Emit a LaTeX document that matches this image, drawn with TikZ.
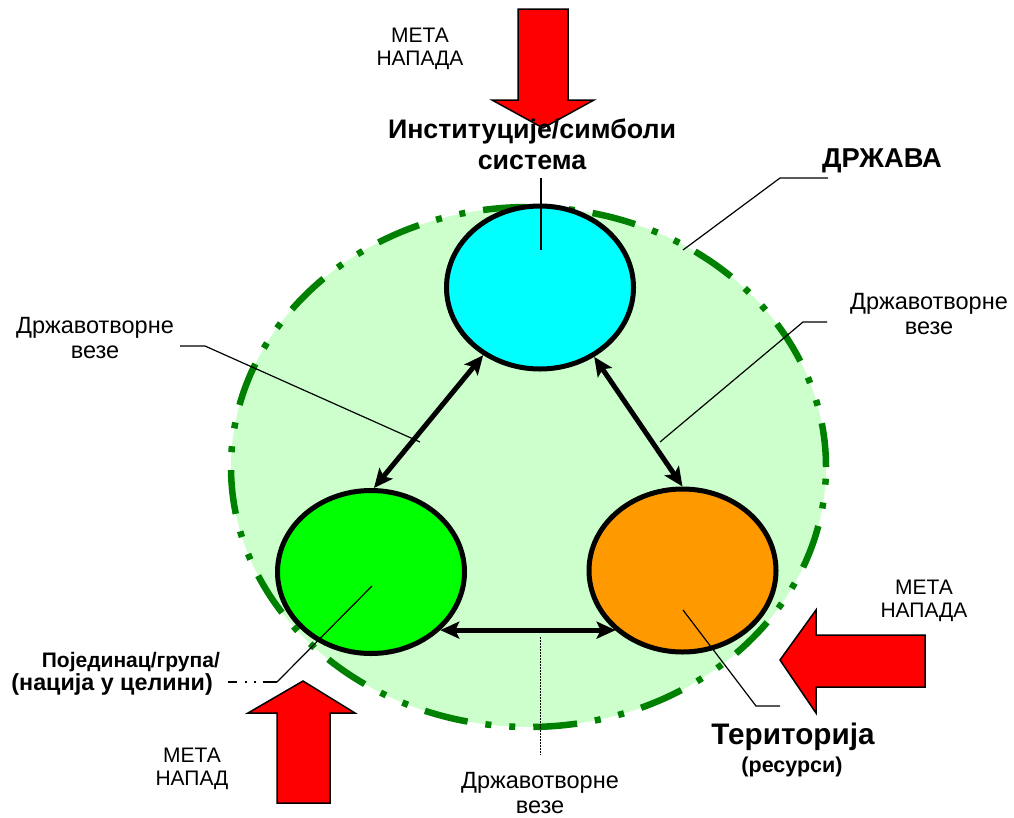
\documentclass[tikz,border=0pt]{standalone}
\usepackage{fontspec}
\setmainfont{Liberation Sans}
\usetikzlibrary{shapes.geometric,arrows.meta}
\definecolor{stategreen}{RGB}{204,255,204}
\definecolor{borderg}{RGB}{0,128,0}
\definecolor{cyanf}{RGB}{0,255,255}
\definecolor{greenf}{RGB}{0,255,0}
\definecolor{orangef}{RGB}{255,153,0}
\definecolor{redf}{RGB}{255,0,0}
\begin{document}
\begin{tikzpicture}[x=1pt,y=-1pt,
  lbl/.style={inner sep=0pt, align=center, font=\fontsize{21}{23}\selectfont},
  vlbl/.style={inner sep=0pt, align=center, font=\fontsize{23.5}{25}\selectfont},
  part/.style={ellipse, draw=black, line width=5pt, minimum width=187pt, minimum height=163pt, inner sep=0pt},
  link/.style={line width=5pt, {Stealth[length=19pt,width=17pt,inset=4pt]}-{Stealth[length=19pt,width=17pt,inset=4pt]}},
  leader/.style={line width=1.2pt, black},
  attack/.style={fill=redf, draw=black, line width=1.5pt, line join=miter}]
\useasboundingbox (0,0) rectangle (1014,817);

% state
\node[ellipse, fill=stategreen, draw=borderg, line width=6.5pt,
      dash pattern=on 44pt off 18pt on 6pt off 18pt on 6pt off 18pt,
      minimum width=595pt, minimum height=520pt, inner sep=0pt] (state) at (528.5,467) {};

% parts
\node[part, fill=cyanf]   (top)   at (540,287.5) {};
\node[part, fill=greenf]  (left)  at (371,572) {};
\node[part, fill=orangef] (right) at (682.5,570.5) {};

% links
\draw[link] (top.-130) -- (left.88);
\draw[link] (top.-52) -- (right.90);
\draw[link] (left.-40) -- (left.-40 -| right.-138);

% attack arrows
\draw[attack] (518,9) -- (568,9) -- (568,100) -- (594,100) -- (543,128) -- (492,100) -- (518,100) -- cycle;
\draw[attack] (277,803) -- (330,803) -- (330,713) -- (355,713) -- (303,681) -- (248,713) -- (277,713) -- cycle;
\draw[attack] (925,635) -- (925,687) -- (816,687) -- (816,713) -- (780,660) -- (816,610) -- (816,635) -- cycle;

% labels (base = baseline of last line)
\node[lbl, anchor=base] (metatop) at (420,65) {МЕТА\\НАПАДА};
\node[lbl, anchor=base, font=\bfseries\fontsize{26.8}{31}\selectfont] (inst) at (532,169) {Институције/симболи\\система};
\node[lbl, anchor=base, font=\bfseries\fontsize{27.3}{31}\selectfont] (drzava) at (882,167) {ДРЖАВА};
\node[vlbl, anchor=base] (vezeL) at (95,358) {Државотворне\\везе};
\node[vlbl, anchor=base] (vezeR) at (929,334) {Државотворне\\везе};
\node[vlbl, anchor=base] (vezeB) at (540,813) {Државотворне\\везе};
\node[lbl, anchor=base, font=\bfseries\fontsize{29.7}{30}\selectfont] (terit) at (793,744) {Територија};
\node[lbl, anchor=base, font=\bfseries\fontsize{21.5}{22}\selectfont] (resursi) at (792,772) {(ресурси)};
\node[lbl, anchor=base east, align=right, font=\bfseries] (pojed) at (220,690)
  {{\fontsize{21}{25}\selectfont Појединац/група/}\\{\fontsize{23.3}{25}\selectfont (нација у целини)\kern7pt}};
\node[lbl, anchor=base] (metaR) at (924,617) {МЕТА\\НАПАДА};
\node[lbl, anchor=base] (metaL) at (192,785) {МЕТА\\НАПАД};

% leader lines
\coordinate (d0) at (828,178); \coordinate (d1) at (780,178); \coordinate (d2) at (683,250);
\draw[leader] (d0) -- (d1) -- (d2);
\coordinate (l0) at (180,346); \coordinate (l1) at (205,346); \coordinate (l2) at (420,442);
\draw[leader] (l0) -- (l1) -- (l2);
\coordinate (r0) at (827,322); \coordinate (r1) at (803,322); \coordinate (r2) at (660,442);
\draw[leader] (r0) -- (r1) -- (r2);
\coordinate (i0) at (541,178); \coordinate (i1) at (541,250);
\draw[leader] (i0) -- (i1);
\coordinate (t0) at (780,706); \coordinate (t1) at (756,706); \coordinate (t2) at (683,610);
\draw[leader] (t0) -- (t1) -- (t2);
\coordinate (p0) at (228,682); \coordinate (p1) at (277,682); \coordinate (p2) at (372,586);
\draw[leader, dash pattern=on 9pt off 8pt on 1.5pt off 7.5pt on 1.5pt off 7pt on 20pt] (p0) -- (p1);
\draw[leader] (p1) -- (p2);
\coordinate (b0) at (540,637); \coordinate (b1) at (540,755);
\draw[line width=1pt, dash pattern=on 1.5pt off 1.5pt] (b0) -- (b1);
\end{tikzpicture}
\end{document}
